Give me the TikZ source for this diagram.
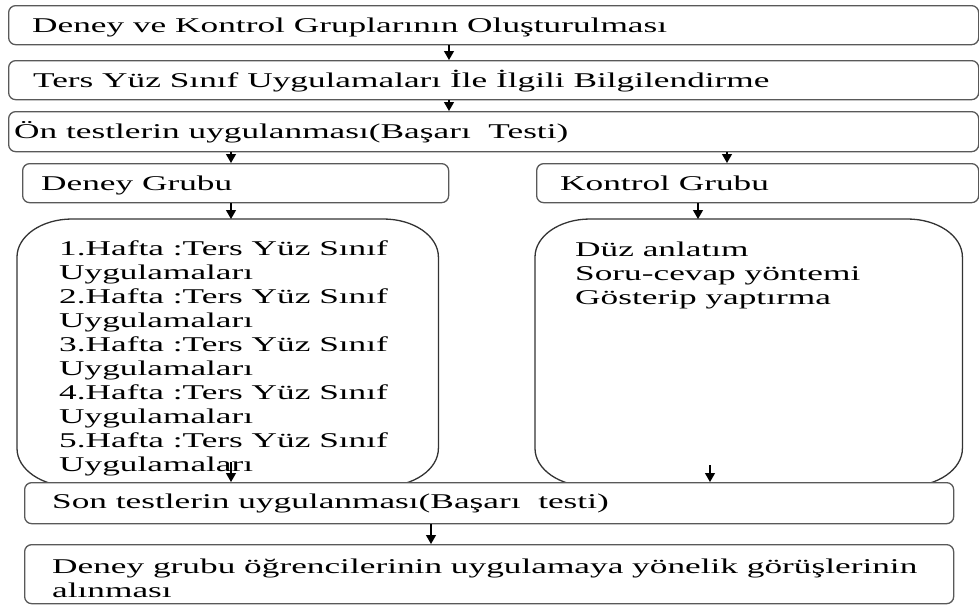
\documentclass[tikz,border=0pt]{standalone}
\usepackage{fontspec}
\usepackage{graphicx}
\setmainfont{Liberation Serif}
\usetikzlibrary{arrows.meta}
\newcommand{\sx}[1]{\scalebox{1.68}[1]{#1}}
\newcommand{\mlines}[1]{\sx{\begin{tabular}[t]{@{}l@{}}#1\end{tabular}}}
\begin{document}
\begin{tikzpicture}[x=1pt,y=-1pt,
  box/.style={draw=black!65, line width=1.3pt, rounded corners=7pt, fill=white,
    inner sep=0pt, anchor=north west},
  area/.style={draw=none, inner sep=0pt, anchor=north west},
  bigline/.style={draw=black!80, line width=1.3pt},
  txt/.style={inner sep=0pt, anchor=base west, font=\fontsize{21pt}{24pt}\selectfont},
  arr/.style={draw=black, line width=1.2pt, -{Triangle[length=9pt,width=10pt]}}]
\useasboundingbox (0,0) rectangle (979,605);

% top boxes
\node[box, minimum width=970pt, minimum height=39pt] (b1) at (8,5) {};
\node[box, minimum width=970pt, minimum height=39pt] (b2) at (8,60) {};
\node[box, minimum width=970pt, minimum height=40pt] (b3) at (8,111) {};
\node[box, minimum width=426pt, minimum height=39pt] (b4) at (22,163) {};
\node[box, minimum width=442pt, minimum height=39pt] (b5) at (536,163) {};

\node[txt] (t1) at (32,32) {\sx{Deney ve Kontrol Gruplarının Oluşturulması}};
\node[txt] (t2) at (33,87) {\sx{Ters Yüz Sınıf Uygulamaları İle İlgili Bilgilendirme}};
\node[txt] (t3) at (14,138) {\sx{Ön testlerin uygulanması(Başarı\ \ Testi)}};
\node[txt] (t4) at (41,190) {\sx{Deney Grubu}};
\node[txt] (t5) at (560,190) {\sx{Kontrol Grubu}};

% big boxes
\node[area, minimum width=421pt, minimum height=267pt] (L) at (17,219) {};
\node[area, minimum width=427pt, minimum height=267pt] (R) at (535,219) {};
\foreach \n in {L,R}{
\draw[bigline] ([xshift=55pt]\n.north west) -- ([xshift=-55pt]\n.north east)
  arc[start angle=90,end angle=0,x radius=55pt,y radius=38pt]
  -- ([yshift=38pt]\n.south east)
  arc[start angle=0,end angle=-90,x radius=55pt,y radius=38pt]
  -- ([xshift=55pt]\n.south west)
  arc[start angle=-90,end angle=-180,x radius=55pt,y radius=38pt]
  -- ([yshift=-38pt]\n.north west)
  arc[start angle=180,end angle=90,x radius=55pt,y radius=38pt] -- cycle;
}
\node[txt] (tL) at (59,255) {\mlines{1.Hafta :Ters Yüz Sınıf\\ Uygulamaları\\
  2.Hafta :Ters Yüz Sınıf\\ Uygulamaları\\ 3.Hafta :Ters Yüz Sınıf\\ Uygulamaları\\
  4.Hafta :Ters Yüz Sınıf\\ Uygulamaları\\ 5.Hafta :Ters Yüz Sınıf\\ Uygulamaları}};
\node[txt] (tR) at (575,256) {\mlines{Düz anlatım\\ Soru-cevap yöntemi\\ Gösterip yaptırma}};

% bottom boxes
\node[box, minimum width=929pt, minimum height=41pt] (b6) at (24,482) {};
\node[box, minimum width=929pt, minimum height=59pt] (b7) at (24,544) {};
\node[txt] (t6) at (52,508) {\sx{Son testlerin uygulanması(Başarı\ \ testi)}};
\node[txt] (t7) at (52,573) {\mlines{Deney grubu öğrencilerinin uygulamaya yönelik görüşlerinin\\ alınması}};

% connectors
\coordinate (xa) at (449,0);
\coordinate (xb) at (231,0);
\coordinate (xc) at (727,0);
\coordinate (xd) at (698,0);
\coordinate (xe) at (431,0);
\coordinate (s7) at (231,462);
\coordinate (s8) at (710,465);
\draw[arr] (b1.south -| xa) -- (b2.north -| xa);
\draw[arr] (b2.south -| xa) -- (b3.north -| xa);
\draw[arr] (b3.south -| xb) -- (b4.north -| xb);
\draw[arr] (b3.south -| xc) -- (b5.north -| xc);
\draw[arr] (b4.south -| xb) -- (L.north -| xb);
\draw[arr] (b5.south -| xd) -- (R.north -| xd);
\draw[arr] (s7) -- (s7 |- b6.north);
\draw[arr] (s8) -- (s8 |- b6.north);
\draw[arr] (b6.south -| xe) -- (b7.north -| xe);
\end{tikzpicture}
\end{document}
